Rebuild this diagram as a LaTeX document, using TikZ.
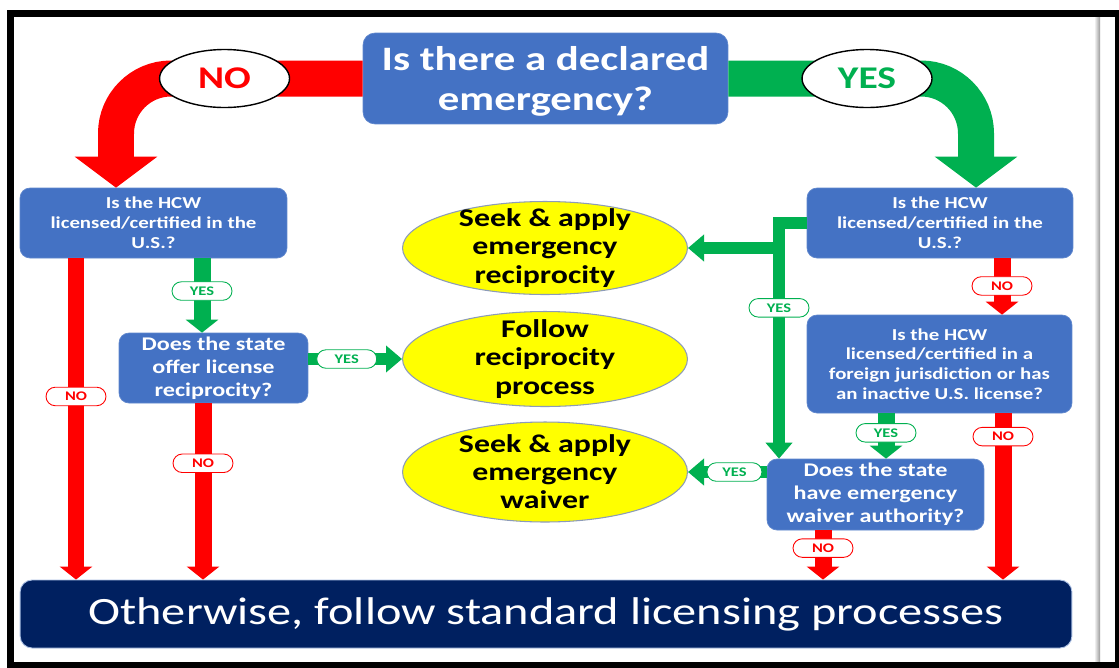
\documentclass[tikz,border=0pt]{standalone}
\usepackage{fontspec}
\setmainfont{Carlito}[FakeStretch=1.25]
\usetikzlibrary{arrows.meta,shapes.geometric,shapes.misc}

\definecolor{biru}{RGB}{68,114,196}
\definecolor{birutua}{RGB}{0,32,96}
\definecolor{merah}{RGB}{255,0,0}
\definecolor{hijau}{RGB}{0,176,80}
\definecolor{kuning}{RGB}{255,255,0}
\definecolor{tepi}{RGB}{140,155,185}

\tikzset{
  tanya/.style={rectangle, rounded corners=0.2cm, fill=biru, draw=biru!85!white,
    line width=0.4pt, text=white, align=center, inner sep=0pt,
    font=\bfseries\fontsize{9.5}{11.3}\selectfont},
  tanyab/.style={tanya, font=\bfseries\fontsize{11}{13}\selectfont},
  hasil/.style={ellipse, fill=kuning, draw=tepi, line width=0.6pt, inner sep=0pt,
    minimum width=5.7cm},
  hasilteks/.style={align=center, inner sep=0pt, font=\bfseries\fontsize{14.5}{16}\selectfont},
  bulat/.style={ellipse, fill=white, draw=black, line width=0.8pt, inner sep=0pt,
    minimum width=2.6cm, minimum height=1.16cm, font=\bfseries\fontsize{18}{20}\selectfont},
  pilno/.style={rounded rectangle, fill=white, draw=merah, line width=0.5pt, text=merah,
    inner sep=0pt, minimum width=1.2cm, minimum height=0.37cm,
    font=\bfseries\fontsize{7.5}{8}\selectfont},
  pilya/.style={pilno, draw=hijau, text=hijau},
  panahno/.style={merah, line width=0.34cm, -{Triangle[width=0.64cm,length=0.26cm]}},
  panahya/.style={panahno, hijau},
  panahtipis/.style={hijau, line width=0.25cm, -{Triangle[width=0.52cm,length=0.32cm]}},
  panahbesar/.style={line width=0.72cm, rounded corners=1.1cm,
    -{Triangle[width=1.62cm,length=0.62cm]}}
}

\begin{document}
\begin{tikzpicture}[x=0.02cm, y=-0.02cm]
  \useasboundingbox (0,0) rectangle (1119,667);

  % Latar dan bingkai
  \fill[white] (0,0) rectangle (1119,667);
  \shade[left color=white, right color=black!40] (1094,17) rectangle (1100,662);
  \draw[line width=0.14cm] (10.5,13) rectangle (1118,665);

  % Kotak pertanyaan
  \node[tanya, minimum width=7.3cm, minimum height=1.82cm, rounded corners=0.24cm,
    text depth=0pt, font=\bfseries\fontsize{19.5}{22.7}\selectfont] (q0) at (545.5,78.5)
    {Is there a declared\\emergency?};
  \node[tanya, minimum width=5.34cm, minimum height=1.4cm] (qL1) at (153.5,223)
    {Is the HCW\\licensed/certified in the\\U.S.?};
  \node[tanyab, minimum width=3.78cm, minimum height=1.4cm] (qL2) at (213.5,368)
    {Does the state\\offer license\\reciprocity?};
  \node[tanya, minimum width=5.32cm, minimum height=1.4cm] (qR1) at (940,223)
    {Is the HCW\\licensed/certified in the\\U.S.?};
  \node[tanya, minimum width=5.3cm, minimum height=1.96cm] (qR2) at (939.5,364)
    {Is the HCW\\licensed/certified in a\\foreign jurisdiction or has\\an inactive U.S. license?};
  \node[tanyab, minimum width=4.34cm, minimum height=1.42cm] (qR3) at (875.5,494.5)
    {Does the state\\have emergency\\waiver authority?};

  % Kotak akhir
  \node[rectangle, rounded corners=0.24cm, fill=birutua, draw=biru!45!white,
    line width=0.5pt, text=white, minimum width=21.04cm, minimum height=1.36cm,
    font=\fontsize{22}{26}\selectfont] (bot) at (546,614)
    {Otherwise, follow standard licensing processes};

  % Elips hasil
  \node[hasil, minimum height=1.86cm] (e1) at (545,248) {};
  \node[hasil, minimum height=1.9cm] (e2) at (545,359) {};
  \node[hasil, minimum height=2cm] (e3) at (545,472) {};
  \node[hasilteks] (t1) at (e1) {Seek \& apply\\emergency\\reciprocity};
  \node[hasilteks] (t2) at (e2) {Follow\\reciprocity\\process};
  \node[hasilteks] (t3) at (e3) {Seek \& apply\\emergency\\waiver};

  % Panah besar dari pertanyaan pertama
  \draw[panahbesar, merah] (q0.west) -| node[bulat, text=merah, pos=0.28] (cno) {NO}
    (116,0 |- qL1.north);
  \draw[panahbesar, hijau] (q0.east) -| node[bulat, text=hijau, pos=0.28] (cya) {YES}
    (976,0 |- qR1.north);

  % Panah NO ke bawah
  \foreach \x/\a/\b/\p in {76/qL1/bot/0.43, 203/qL2/bot/0.34, 1002/qR1/qR2/0.49,
      1003/qR2/bot/0.14, 823/qR3/bot/0.36}
    {
      \draw[panahno] (\x,0 |- \a.south) -- node[pilno, pos=\p] {NO} (\x,0 |- \b.north);
    }

  % Panah YES ke bawah
  \foreach \x/\a/\b/\p in {202/qL1/qL2/0.44, 886/qR2/qR3/0.43}
    {
      \draw[panahya] (\x,0 |- \a.south) -- node[pilya, pos=\p] {YES} (\x,0 |- \b.north);
    }

  % Panah YES ke elips
  \coordinate (tR) at (779,0 |- qR3.north);
  \draw[panahtipis] (qR1.west) -| node[pilya, pos=0.68] {YES} (tR);
  \draw[panahtipis] (tR |- e1) -- (e1.east);
  \draw[panahtipis] (e2 -| qL2.east) -- node[pilya, pos=0.41] {YES} (e2.west);
  \draw[panahtipis] (e3 -| qR3.west) -- node[pilya, pos=0.41, minimum width=1.1cm] {YES} (e3.east);
\end{tikzpicture}
\end{document}
